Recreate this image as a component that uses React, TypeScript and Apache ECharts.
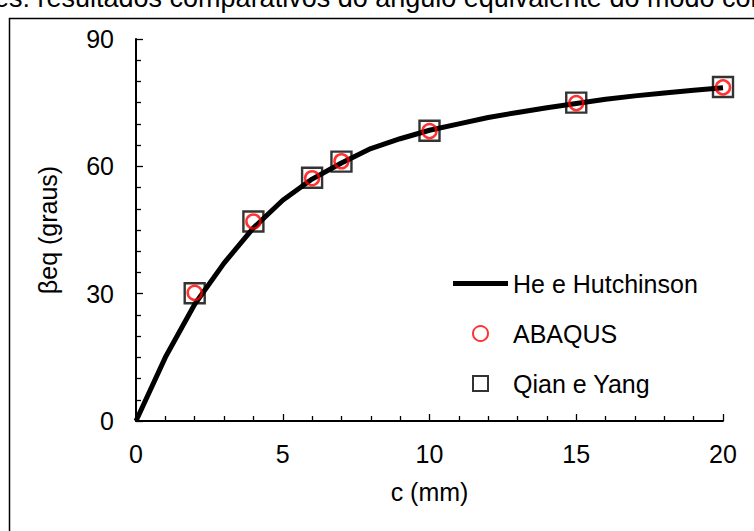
import { useEffect, useRef } from "react";
import * as echarts from "echarts";

// Crack length c (mm) for the analytical curve
const curveC = [0, 1, 2, 3, 4, 5, 6, 7, 8, 9, 10, 11, 12, 13, 14, 15, 16, 17, 18, 19, 20];
// He e Hutchinson: equivalent mode angle (graus)
const heHutchinson = [0, 15, 27.5, 37.2, 45.5, 52, 57, 60.8, 64.2, 66.5, 68.5, 70, 71.5, 72.7, 73.8, 74.8, 75.8, 76.6, 77.3, 77.9, 78.5];

// Crack lengths of the numerical / reference results
const sampleC = [2, 4, 6, 7, 10, 15, 20];
const abaqus = [30.2, 47.0, 57.2, 61.2, 68.3, 74.9, 78.6];
const qianYang = [30.1, 47.0, 57.3, 61.1, 68.4, 75.0, 78.7];

const xTicks = [0, 5, 10, 15, 20];
const yTicks = [0, 30, 60, 90];

const seriesNames = ["He e Hutchinson", "ABAQUS", "Qian e Yang"];
const captionText = "es: resultados comparativos do ângulo equivalente do modo combinado";

const FONT = "'Liberation Sans', Arial, sans-serif";
const FS = 25;

export default function App() {
  const ref = useRef<HTMLDivElement>(null);

  useEffect(() => {
    if (!ref.current) return;
    const chart = echarts.init(ref.current, null, { renderer: "svg" });

    const axisCommon = {
      type: "value" as const,
      axisLine: { show: true, lineStyle: { color: "#000", width: 2 } },
      axisTick: { show: true, inside: true, length: 7, lineStyle: { color: "#000", width: 1.3 } },
      minorTick: { show: true, length: 5, lineStyle: { color: "#000", width: 1.3 } },
      splitLine: { show: false },
      axisLabel: { color: "#000", fontSize: FS, fontFamily: FONT },
      nameTextStyle: { color: "#000", fontSize: FS, fontFamily: FONT },
    };

    chart.setOption({
      animation: false,
      backgroundColor: "#fff",
      textStyle: { fontFamily: FONT },
      grid: { left: 136, right: 31, top: 39, bottom: 110, containLabel: false },
      xAxis: {
        ...axisCommon,
        min: xTicks[0],
        max: xTicks[xTicks.length - 1],
        interval: xTicks[1] - xTicks[0],
        minorTick: { ...axisCommon.minorTick, splitNumber: 5 },
        axisLabel: { ...axisCommon.axisLabel, margin: 20 },
        name: "c (mm)",
        nameLocation: "middle",
        nameGap: 58,
      },
      yAxis: {
        ...axisCommon,
        min: yTicks[0],
        max: yTicks[yTicks.length - 1],
        interval: yTicks[1] - yTicks[0],
        minorTick: { ...axisCommon.minorTick, splitNumber: 6 },
        axisLabel: { ...axisCommon.axisLabel, margin: 22 },
        name: "βeq (graus)",
        nameLocation: "middle",
        nameRotate: 90,
        nameGap: 76,
      },
      legend: {
        orient: "vertical",
        left: 453,
        top: 271,
        padding: 0,
        itemWidth: 55,
        itemHeight: 15,
        itemGap: 25,
        selectedMode: false,
        symbolKeepAspect: true,
        textStyle: { color: "#000", fontSize: FS, fontFamily: FONT },
        data: [
          { name: seriesNames[0], icon: "path://M0,0H55V5H0Z" },
          { name: seriesNames[1], icon: "circle" },
          { name: seriesNames[2], icon: "path://M0,0H10V10H0Z" },
        ],
      },
      graphic: [
        {
          type: "text",
          x: -6,
          y: 11,
          style: {
            text: captionText,
            fontSize: 27,
            fontFamily: FONT,
            fill: "#000",
            verticalAlign: "bottom",
            align: "left",
          },
        },
        {
          type: "rect",
          shape: { x: 9.5, y: 18.5, width: 900, height: 700 },
          style: { fill: "none", stroke: "#000", lineWidth: 1.5 },
          silent: true,
        },
      ],
      series: [
        {
          name: seriesNames[0],
          type: "line",
          data: curveC.map((c, i) => [c, heHutchinson[i]]),
          symbol: "none",
          lineStyle: { color: "#000", width: 5 },
          itemStyle: { color: "#000" },
          z: 2,
        },
        {
          name: seriesNames[2],
          type: "scatter",
          data: sampleC.map((c, i) => [c, qianYang[i]]),
          symbol: "rect",
          symbolSize: 20,
          itemStyle: { color: "transparent", borderColor: "#000", borderWidth: 2.4 },
          z: 3,
        },
        {
          name: seriesNames[1],
          type: "scatter",
          data: sampleC.map((c, i) => [c, abaqus[i]]),
          symbol: "circle",
          symbolSize: 14,
          itemStyle: { color: "transparent", borderColor: "#ff0000", borderWidth: 2.5 },
          z: 4,
        },
      ],
    });

    return () => chart.dispose();
  }, []);

  return (
    <div
      ref={ref}
      style={{ position: "fixed", left: 0, top: 0, width: 754, height: 531, background: "#fff" }}
    />
  );
}
